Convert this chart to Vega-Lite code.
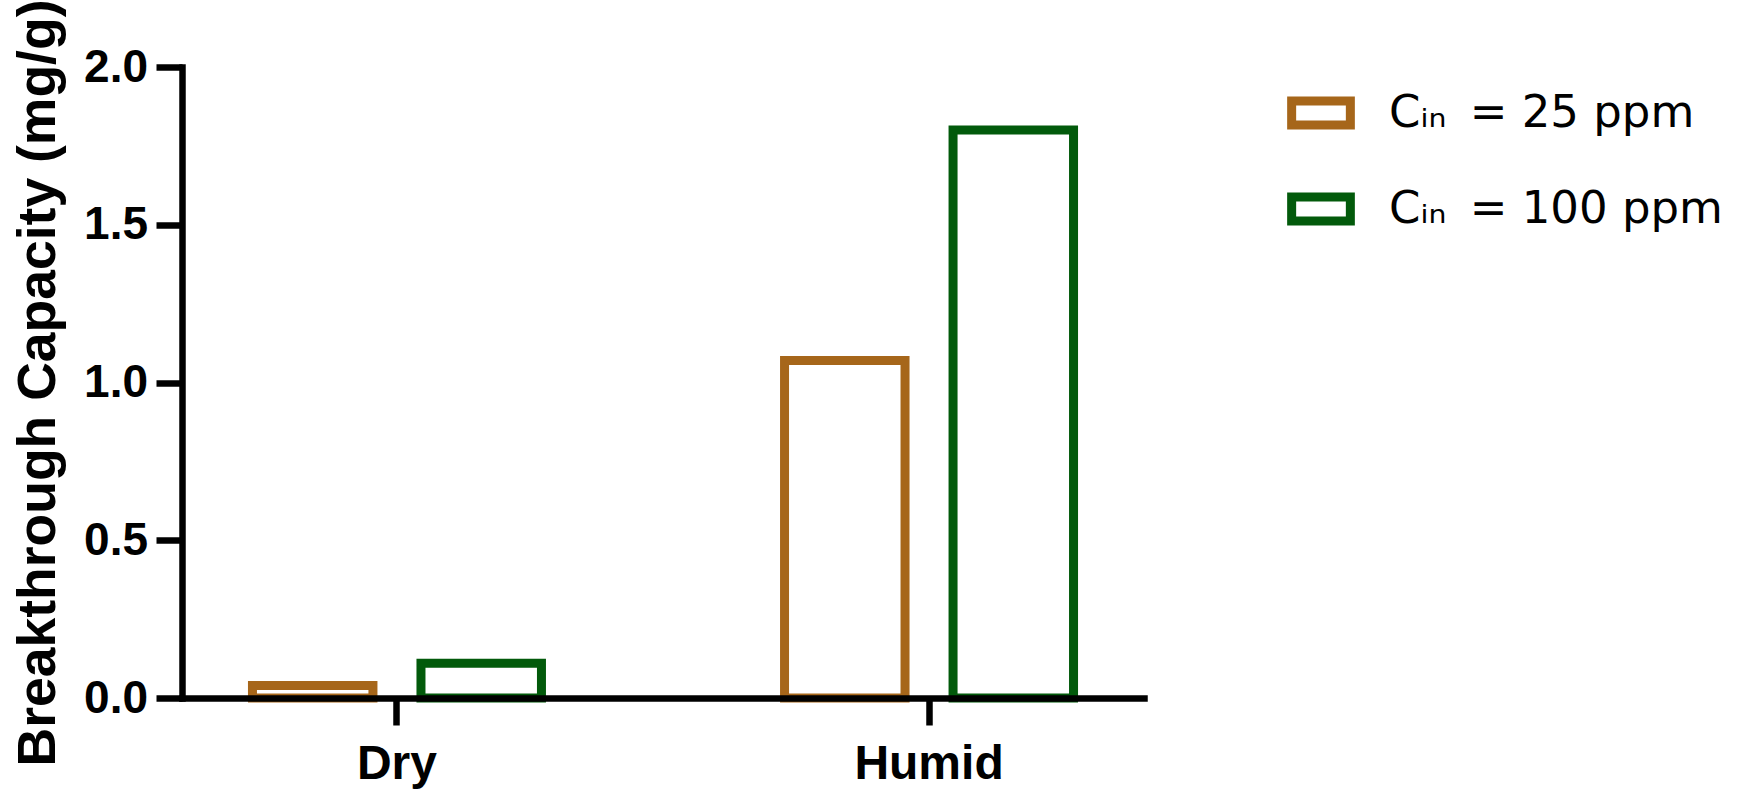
{
  "$schema": "https://vega.github.io/schema/vega-lite/v6.json",
  "autosize": {"type": "none"},
  "width": 962,
  "height": 631,
  "padding": {"left": 182, "top": 67, "right": 594, "bottom": 100},
  "background": "white",
  "config": {
    "view": {"stroke": null},
    "font": "Liberation Sans"
  },
  "data": {
    "values": [
      {"condition": "Dry", "conc": "25 ppm", "capacity": 0.04},
      {"condition": "Dry", "conc": "100 ppm", "capacity": 0.11},
      {"condition": "Humid", "conc": "25 ppm", "capacity": 1.07},
      {"condition": "Humid", "conc": "100 ppm", "capacity": 1.80}
    ]
  },
  "mark": {"type": "bar", "fill": "white", "fillOpacity": 1, "strokeWidth": 9, "strokeJoin": "miter"},
  "encoding": {
    "x": {
      "field": "condition",
      "type": "nominal",
      "sort": ["Dry", "Humid"],
      "scale": {"paddingInner": 0.3666, "paddingOuter": 0.0873},
      "axis": {
        "title": null,
        "labelAngle": 0,
        "labelFont": "Liberation Sans",
        "labelFontWeight": "bold",
        "labelFontSize": 48,
        "labelColor": "black",
        "labelPadding": 15,
        "domainColor": "black",
        "domainWidth": 6.5,
        "domainCap": "square",
        "tickColor": "black",
        "tickWidth": 6.5,
        "tickSize": 27,
        "zindex": 1
      }
    },
    "xOffset": {
      "field": "conc",
      "type": "nominal",
      "sort": ["25 ppm", "100 ppm"],
      "scale": {"paddingInner": 0.285, "paddingOuter": 0.1425}
    },
    "y": {
      "field": "capacity",
      "type": "quantitative",
      "scale": {"domain": [0, 2], "nice": false},
      "axis": {
        "title": "Breakthrough Capacity (mg/g)",
        "titleFont": "Liberation Sans",
        "titleFontWeight": "bold",
        "titleFontSize": 53.5,
        "titleColor": "black",
        "titlePadding": 18,
        "values": [0, 0.5, 1, 1.5, 2],
        "format": ".1f",
        "grid": false,
        "labelFont": "Liberation Sans",
        "labelFontWeight": "bold",
        "labelFontSize": 46,
        "labelColor": "black",
        "labelPadding": 8.5,
        "domainColor": "black",
        "domainWidth": 6.5,
        "domainCap": "square",
        "tickColor": "black",
        "tickWidth": 6.5,
        "tickSize": 26,
        "zindex": 1
      }
    },
    "stroke": {
      "field": "conc",
      "type": "nominal",
      "sort": ["25 ppm", "100 ppm"],
      "scale": {"domain": ["25 ppm", "100 ppm"], "range": ["#A6661A", "#025A0B"]},
      "legend": {
        "title": null,
        "orient": "none",
        "legendX": 1105,
        "legendY": 12,
        "symbolType": "M-1,-0.41H1V0.41H-1Z",
        "symbolSize": 3446,
        "symbolStrokeWidth": 9,
        "symbolFillColor": "white",
        "symbolOpacity": 1,
        "labelFont": "DejaVu Sans",
        "labelFontSize": 45,
        "labelColor": "black",
        "labelOffset": 34,
        "labelLimit": 600,
        "rowPadding": 31,
        "labelExpr": "'Cᵢₙ \u2009= ' + datum.label"
      }
    }
  }
}
